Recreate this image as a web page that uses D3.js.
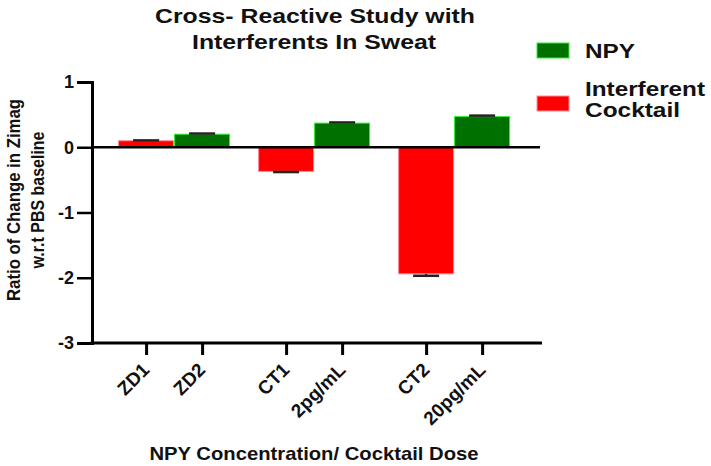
<!DOCTYPE html>
<html>
<head>
<meta charset="utf-8">
<script src="https://cdn.jsdelivr.net/npm/d3@7"></script>
<style>
  body { margin: 0; background: #fff; }
  text { font-family: "Liberation Sans", Arial, sans-serif; font-weight: bold; fill: #111; }
</style>
</head>
<body>
<div id="viz"></div>
<script>
// values
var categories = ["ZD1", "ZD2", "CT1", "2pg/mL", "CT2", "20pg/mL"],
    groups = ["Zero", "Low", "High"],
    groupOf = ["Zero", "Zero", "Low", "Low", "High", "High"],
    seriesNames = ["Interferent Cocktail", "NPY"],
    seriesOf = ["Interferent Cocktail", "NPY", "Interferent Cocktail", "NPY", "Interferent Cocktail", "NPY"],
    values = [0.10, 0.20, -0.37, 0.37, -1.94, 0.47],
    errors = [0.005, 0.01, 0.01, 0.01, 0.03, 0.015],
    yTicks = [-3, -2, -1, 0, 1];

var width = 711,
    height = 466,
    plotLeft = 92, plotRight = 542,
    plotTop = 82, plotBottom = 343;

var svg = d3.select('#viz').append('svg')
    .attr('width', width)
    .attr('height', height)

var y = d3.scaleLinear()
    .domain([-3, 1])
    .range([plotBottom, plotTop])

var x0 = d3.scaleBand()
    .domain(groups)
    .range([plotLeft, plotRight])
    .paddingInner(0.2)
    .paddingOuter(0.207)
    .align(0.45)

var x1 = d3.scaleBand()
    .domain(seriesNames)
    .range([0, x0.bandwidth()])

var fill = d3.scaleOrdinal().domain(seriesNames).range(["#ff0000", "#007000"]),
    edge = d3.scaleOrdinal().domain(seriesNames).range(["#ff8a9a", "#33ee33"]);

// centre of every bar, for the category axis
var xCat = d3.scaleOrdinal()
    .domain(categories)
    .range(categories.map(function(c, i) {
        return x0(groupOf[i]) + x1(seriesOf[i]) + x1.bandwidth() / 2;
    }))

// bars
svg.append('g').selectAll('rect')
    .data(values)
    .enter().append('rect')
    .attr('x', function(d, i) { return x0(groupOf[i]) + x1(seriesOf[i]) + 0.5; })
    .attr('width', x1.bandwidth() - 1)
    .attr('y', function(d) { return Math.min(y(d), y(0)); })
    .attr('height', function(d) { return Math.abs(y(d) - y(0)); })
    .style('fill', function(d, i) { return fill(seriesOf[i]); })
    .style('stroke', function(d, i) { return edge(seriesOf[i]); })
    .style('stroke-width', 1)

// error bars (outward only)
function errEnd(d, i) { return y(d + (d < 0 ? -errors[i] : errors[i])); }

var err = svg.append('g').selectAll('g')
    .data(values)
    .enter().append('g')
    .attr('transform', function(d, i) { return 'translate(' + xCat(categories[i]) + ',0)'; })

err.append('line')
    .attr('y1', function(d) { return y(d); })
    .attr('y2', errEnd)
    .style('stroke', '#222').style('stroke-width', 2)

err.append('line')
    .attr('x1', -13).attr('x2', 13)
    .attr('y1', errEnd)
    .attr('y2', errEnd)
    .style('stroke', '#222').style('stroke-width', 2.5)

// zero line
svg.append('line')
    .attr('x1', plotLeft).attr('x2', plotRight - 2)
    .attr('y1', y(0)).attr('y2', y(0))
    .style('stroke', '#000').style('stroke-width', 2.5)

// y axis
var yGuide = svg.append('g')
    .attr('transform', 'translate(' + plotLeft + ',0)')
    .call(d3.axisLeft(y).tickValues(yTicks).tickFormat(function(d) { return String(d); }).tickSize(15).tickPadding(3))
yGuide.select('.domain').style('stroke', '#000').style('stroke-width', 3)
yGuide.selectAll('.tick line').style('stroke', '#000').style('stroke-width', 2.5)
yGuide.selectAll('.tick text')
    .style('font-size', '18px')
    .style('font-family', '"Liberation Sans", Arial, sans-serif')
    .style('font-weight', 'bold')
    .style('fill', '#111')

// x axis
svg.append('line')
    .attr('x1', plotLeft - 1.5).attr('x2', plotRight)
    .attr('y1', plotBottom).attr('y2', plotBottom)
    .style('stroke', '#000').style('stroke-width', 3)

var xGuide = svg.append('g')
    .attr('transform', 'translate(0,' + plotBottom + ')')
    .call(d3.axisBottom(xCat).tickSize(12).tickSizeOuter(0))
xGuide.select('.domain').remove()
xGuide.selectAll('.tick line').style('stroke', '#000').style('stroke-width', 3)
xGuide.selectAll('.tick text')
    .style('font-size', '19px')
    .style('font-family', '"Liberation Sans", Arial, sans-serif')
    .style('font-weight', 'bold')
    .style('fill', '#111')
    .attr('text-anchor', 'end')
    .attr('y', 0).attr('dy', 0)
    .attr('transform', 'translate(4,28) rotate(-45)')

// titles
function label(txt, xPos, yPos, size, len) {
    return svg.append('text')
        .attr('x', xPos).attr('y', yPos)
        .attr('text-anchor', 'middle')
        .style('font-size', size + 'px')
        .attr('textLength', len)
        .attr('lengthAdjust', 'spacingAndGlyphs')
        .text(txt)
}

label('Cross- Reactive Study with', 315, 23, 21, 320)
label('Interferents In Sweat', 314, 49, 21, 244)
label('NPY Concentration/ Cocktail Dose', 314, 460, 19, 329)

svg.append('g')
    .attr('transform', 'translate(20,200) rotate(-90)')
    .call(function(g) {
        g.append('text').attr('text-anchor', 'middle').style('font-size', '18px')
            .attr('textLength', 202).attr('lengthAdjust', 'spacingAndGlyphs')
            .text('Ratio of Change in Zimag')
        g.append('text').attr('y', 24).attr('text-anchor', 'middle').style('font-size', '18px')
            .attr('textLength', 137).attr('lengthAdjust', 'spacingAndGlyphs')
            .text('w.r.t PBS baseline')
    })

// legend
var legend = svg.append('g')
var legendItems = [
    { name: "NPY", lines: ["NPY"], rectY: 43, textY: 58, widths: [50] },
    { name: "Interferent Cocktail", lines: ["Interferent", "Cocktail"], rectY: 96, textY: 96, widths: [120, 95] }
]
legendItems.forEach(function(item) {
    legend.append('rect')
        .attr('x', 537).attr('y', item.rectY)
        .attr('width', 32).attr('height', 15)
        .style('fill', fill(item.name))
        .style('stroke', edge(item.name))
    item.lines.forEach(function(t, k) {
        legend.append('text')
            .attr('x', 585).attr('y', item.textY + k * 21)
            .style('font-size', '20px')
            .attr('textLength', item.widths[k])
            .attr('lengthAdjust', 'spacingAndGlyphs')
            .text(t)
    })
})
</script>
</body>
</html>
